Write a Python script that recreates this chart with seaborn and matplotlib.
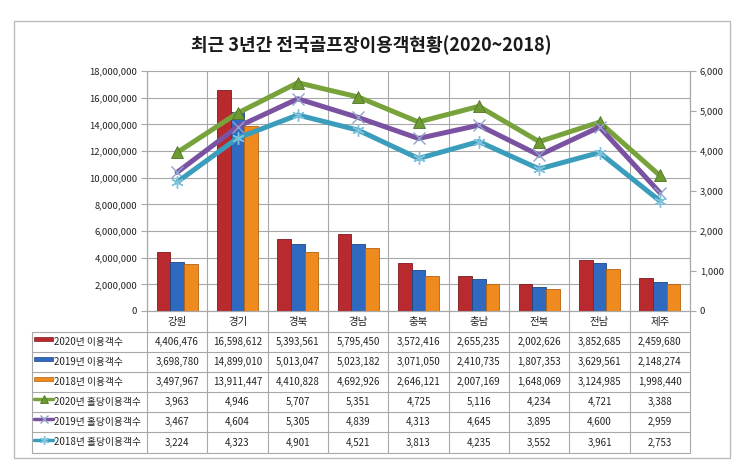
import numpy as np
import pandas as pd
import matplotlib
matplotlib.use("Agg")
import matplotlib.pyplot as plt
import matplotlib.transforms as mtransforms
from matplotlib.patches import Rectangle
from matplotlib.lines import Line2D
import seaborn as sns

# ---------------- data ----------------
regions = ["강원", "경기", "경북", "경남", "충북", "충남", "전북", "전남", "제주"]
visitors_2020 = [4406476, 16598612, 5393561, 5795450, 3572416, 2655235, 2002626, 3852685, 2459680]
visitors_2019 = [3698780, 14899010, 5013047, 5023182, 3071050, 2410735, 1807353, 3629561, 2148274]
visitors_2018 = [3497967, 13911447, 4410828, 4692926, 2646121, 2007169, 1648069, 3124985, 1998440]
perhole_2020 = [3963, 4946, 5707, 5351, 4725, 5116, 4234, 4721, 3388]
perhole_2019 = [3467, 4604, 5305, 4839, 4313, 4645, 3895, 4600, 2959]
perhole_2018 = [3224, 4323, 4901, 4521, 3813, 4235, 3552, 3961, 2753]
bar_labels = ["2020년 이용객수", "2019년 이용객수", "2018년 이용객수"]
line_labels = ["2020년 홀당이용객수", "2019년 홀당이용객수", "2018년 홀당이용객수"]
title = "최근 3년간 전국골프장이용객현황(2020~2018)"

# ---------------- style ----------------
sns.set_style("white")
plt.rcParams["font.family"] = ["Noto Sans CJK KR", "DejaVu Sans"]

W, H = 743, 468
fig = plt.figure(figsize=(W / 100, H / 100), dpi=100)

def fx(p):
    return p / W

def fy(p):
    return 1 - p / H

bar_colors = ["#B92A2F", "#3069C0", "#EF8A1F"]
bar_edges = ["#7E1A1E", "#1E4685", "#B5620F"]
line_colors = ["#78A23C", "#7A52A1", "#3B9DBC"]
grid_c = "#A8A8A8"
text_c = "#222222"
FS = 7

# outer frame
fig.patches.append(Rectangle((fx(14), fy(458)), fx(730) - fx(14), fy(21) - fy(458),
                             transform=fig.transFigure, fill=False, edgecolor="#BDBDBD", lw=1.0))
fig.text(0.5, fy(45), title, ha="center", va="center", fontsize=13, fontweight="bold", color="#1a1a1a")

AX_L, AX_R, AX_T, AX_B = 147, 690, 71, 311
ax = fig.add_axes([fx(AX_L), fy(AX_B), fx(AX_R) - fx(AX_L), fy(AX_T) - fy(AX_B)])

bars_df = pd.DataFrame({
    "region": regions * 3,
    "series": sum([[l] * len(regions) for l in bar_labels], []),
    "value": visitors_2020 + visitors_2019 + visitors_2018,
})
sns.barplot(data=bars_df, x="region", y="value", hue="series", order=regions,
            hue_order=bar_labels, palette=bar_colors, width=0.68, ax=ax,
            legend=False, saturation=1, zorder=3)
for i, cont in enumerate(ax.containers):
    for p in cont.patches:
        p.set_edgecolor(bar_edges[i])
        p.set_linewidth(0.6)

ax.set_ylim(0, 18000000)
ax.set_xlim(-0.5, len(regions) - 0.5)
ax.set_yticks(np.arange(0, 18000001, 2000000))
ax.yaxis.set_major_formatter(matplotlib.ticker.FuncFormatter(lambda v, _: f"{int(v):,}"))
ax.set_xlabel("")
ax.set_ylabel("")
ax.tick_params(axis="y", labelsize=6.8, colors=text_c, length=4, width=0.8, color=grid_c, direction="out", pad=3)
ax.tick_params(axis="x", labelsize=7.5, colors=text_c, length=0, pad=4)
ax.set_xticks(range(len(regions)))
ax.set_xticklabels(regions)
ax.grid(axis="y", color=grid_c, lw=0.8, zorder=0)
ax.set_axisbelow(True)
for b in np.arange(-0.5, len(regions), 1.0):
    ax.axvline(b, color=grid_c, lw=0.8, zorder=0)
ax.spines["top"].set_visible(False)
for s in ["left", "right", "bottom"]:
    ax.spines[s].set_color(grid_c)
    ax.spines[s].set_linewidth(0.8)

ax2 = ax.twinx()
lines_df = pd.DataFrame({"pos": list(range(len(regions))) * 3,
                         "series": sum([[l] * len(regions) for l in line_labels], []),
                         "value": perhole_2020 + perhole_2019 + perhole_2018})
marker_specs = [
    dict(marker="^", markersize=9, markerfacecolor="#6E9A33", markeredgecolor="#4F7424", markeredgewidth=0.6),
    dict(marker="x", markersize=8, markerfacecolor="none", markeredgecolor="#8FA3CC", markeredgewidth=1.0),
    dict(marker=(6, 2, 0), markersize=9, markerfacecolor="none", markeredgecolor="#7FC2DC", markeredgewidth=1.0),
]
for lbl, col, ms in zip(line_labels, line_colors, marker_specs):
    sub = lines_df[lines_df["series"] == lbl]
    sns.lineplot(data=sub, x="pos", y="value", color=col, lw=3.6, ax=ax2, zorder=5, **ms)
ax2.set_ylim(0, 6000)
ax2.set_xlim(-0.5, len(regions) - 0.5)
ax2.set_yticks(np.arange(0, 6001, 1000))
ax2.yaxis.set_major_formatter(matplotlib.ticker.FuncFormatter(lambda v, _: f"{int(v):,}"))
ax2.set_ylabel("")
ax2.set_xlabel("")
ax2.tick_params(axis="y", labelsize=6.8, colors=text_c, length=4, width=0.8, color=grid_c, direction="out", pad=3)
ax2.spines["top"].set_visible(False)
for s in ["left", "right", "bottom"]:
    ax2.spines[s].set_color(grid_c)
    ax2.spines[s].set_linewidth(0.8)

# ---------------- data table ----------------
TBL_L, TBL_R = 32, 689
row_edges = [332, 352, 372, 392, 412, 432, 453]
blend = mtransforms.blended_transform_factory(ax.transData, fig.transFigure)
for yy in row_edges:
    fig.add_artist(Line2D([fx(TBL_L), fx(TBL_R)], [fy(yy), fy(yy)], transform=fig.transFigure,
                          color=grid_c, lw=0.8))
fig.add_artist(Line2D([fx(TBL_L), fx(TBL_L)], [fy(332), fy(453)], transform=fig.transFigure, color=grid_c, lw=0.8))
for b in np.arange(-0.5, len(regions), 1.0):
    fig.add_artist(Line2D([b, b], [fy(AX_B), fy(453)], transform=blend, color=grid_c, lw=0.8))

rows = [visitors_2020, visitors_2019, visitors_2018, perhole_2020, perhole_2019, perhole_2018]
labels = bar_labels + line_labels
for r, (vals, lbl) in enumerate(zip(rows, labels)):
    yc = (row_edges[r] + row_edges[r + 1]) / 2
    for i, v in enumerate(vals):
        fig.text(i, fy(yc), f"{v:,}", transform=blend, ha="center", va="center", fontsize=FS, color=text_c)
    if r < 3:
        fig.patches.append(Rectangle((fx(34), fy(yc - 1)), fx(19), fy(yc - 5) - fy(yc - 1),
                                     transform=fig.transFigure, facecolor=bar_colors[r],
                                     edgecolor=bar_edges[r], lw=0.5))
    else:
        k = r - 3
        ms = dict(marker_specs[k])
        ms["markersize"] = ms["markersize"] * 0.7
        fig.add_artist(Line2D([fx(34), fx(53)], [fy(yc - 3), fy(yc - 3)], transform=fig.transFigure,
                              color=line_colors[k], lw=2.5))
        fig.add_artist(Line2D([fx(43.5)], [fy(yc - 3)], transform=fig.transFigure,
                              color=line_colors[k], lw=0, **ms))
    fig.text(fx(54), fy(yc), lbl, ha="left", va="center", fontsize=FS, color=text_c)

fig.savefig("out.png", dpi=100, facecolor="white")
